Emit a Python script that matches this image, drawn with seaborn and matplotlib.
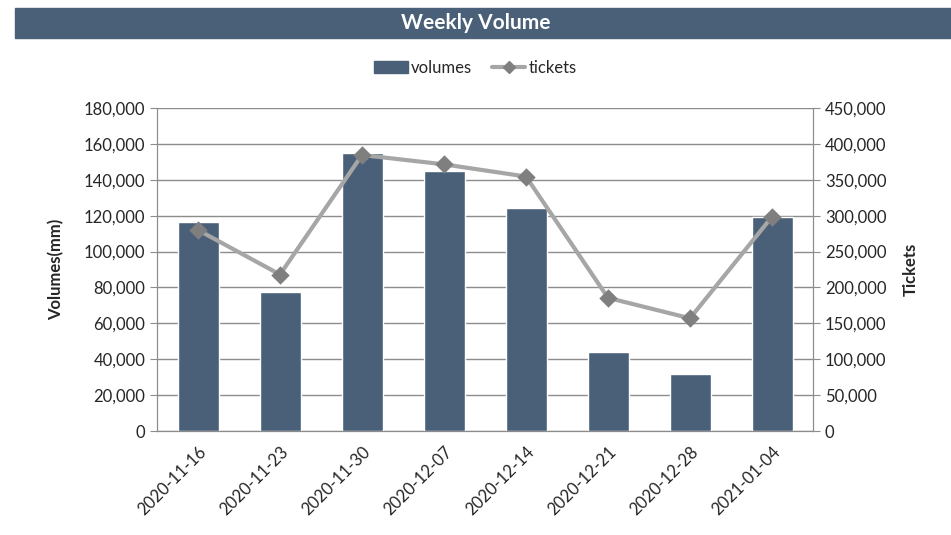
import matplotlib
matplotlib.use("Agg")
import matplotlib.pyplot as plt
import matplotlib.ticker as mticker
from matplotlib.lines import Line2D
from matplotlib.patches import Patch, Rectangle
import pandas as pd
import seaborn as sns

weeks = ['2020-11-16', '2020-11-23', '2020-11-30', '2020-12-07',
         '2020-12-14', '2020-12-21', '2020-12-28', '2021-01-04']
volumes = [116500, 77500, 155000, 145000, 124500, 44000, 32000, 119000]
tickets = [280000, 218000, 384500, 371500, 354500, 185500, 157000, 298500]

df = pd.DataFrame({'week': weeks, 'volumes': volumes, 'tickets': tickets})

sns.set_style('white')
plt.rcParams['font.family'] = ['Lato', 'DejaVu Sans']

bar_c = '#4a6078'
line_c = '#a6a6a6'
mark_c = '#7f7f7f'
grid_c = '#8c8c8c'
fs = 12

fig = plt.figure(figsize=(9.51, 5.35), dpi=100)
ax = fig.add_axes([157/951, 104/535, 656/951, 323/535])

# title band
fig.patches.append(Rectangle((15/951, 497/535), 1 - 15/951, 30/535,
                             transform=fig.transFigure, color=bar_c, zorder=0))
fig.text(0.5, 512/535, 'Weekly Volume', color='white', fontsize=15,
         fontweight='bold', ha='center', va='center')

sns.barplot(data=df, x='week', y='volumes', color=bar_c, width=0.5,
            saturation=1, ax=ax, zorder=3)
ax.set_ylim(0, 180000)
ax.set_xlim(-0.5, 7.5)
ax.yaxis.set_major_locator(mticker.MultipleLocator(20000))
ax.yaxis.set_major_formatter(mticker.StrMethodFormatter('{x:,.0f}'))
ax.grid(axis='y', color=grid_c, linewidth=1, zorder=0)
ax.set_axisbelow(True)

ax2 = ax.twinx()
sns.pointplot(data=df, x='week', y='tickets', color=line_c, markers='D',
              linewidth=3, markersize=7, ax=ax2)
for ln in ax2.lines:
    ln.set_markerfacecolor(mark_c)
    ln.set_markeredgecolor(mark_c)
ax2.set_ylim(0, 450000)
ax2.set_xlim(-0.5, 7.5)
ax2.yaxis.set_major_locator(mticker.MultipleLocator(50000))
ax2.yaxis.set_major_formatter(mticker.StrMethodFormatter('{x:,.0f}'))

# category ticks at boundaries
ax.set_xticks(range(len(weeks)))
ax.set_xticklabels(weeks, rotation=45, ha='right', rotation_mode='anchor',
                   fontsize=fs)
ax.set_xticks([i - 0.5 for i in range(len(weeks) + 1)], minor=True)
ax.tick_params(axis='x', which='major', length=0, pad=9)
ax.tick_params(axis='x', which='minor', length=5, color=grid_c, direction='out')
ax.tick_params(axis='y', length=5, color=grid_c, labelsize=fs, direction='out', left=True)
ax2.tick_params(axis='y', length=5, color=grid_c, labelsize=fs, direction='out', right=True)

for a in (ax, ax2):
    for side in ('left', 'right', 'bottom'):
        a.spines[side].set_color(grid_c)
        a.spines[side].set_visible(True)
    a.spines['top'].set_visible(False)

ax.set_xlabel('')
ax.set_ylabel('Volumes(mm)', fontsize=fs, fontweight='bold', labelpad=14)
ax2.set_ylabel('Tickets', fontsize=fs, fontweight='bold', labelpad=12)

handles = [Patch(color=bar_c, label='volumes'),
           Line2D([], [], color=line_c, lw=3, marker='D', markersize=6,
                  markerfacecolor=mark_c, markeredgecolor=mark_c, label='tickets')]
fig.legend(handles=handles, loc='center', bbox_to_anchor=(0.5, 467/535), ncol=2,
           frameon=False, fontsize=fs, handlelength=2.0, handletextpad=0.2,
           columnspacing=1.2)

fig.savefig('out.png', dpi=100)
